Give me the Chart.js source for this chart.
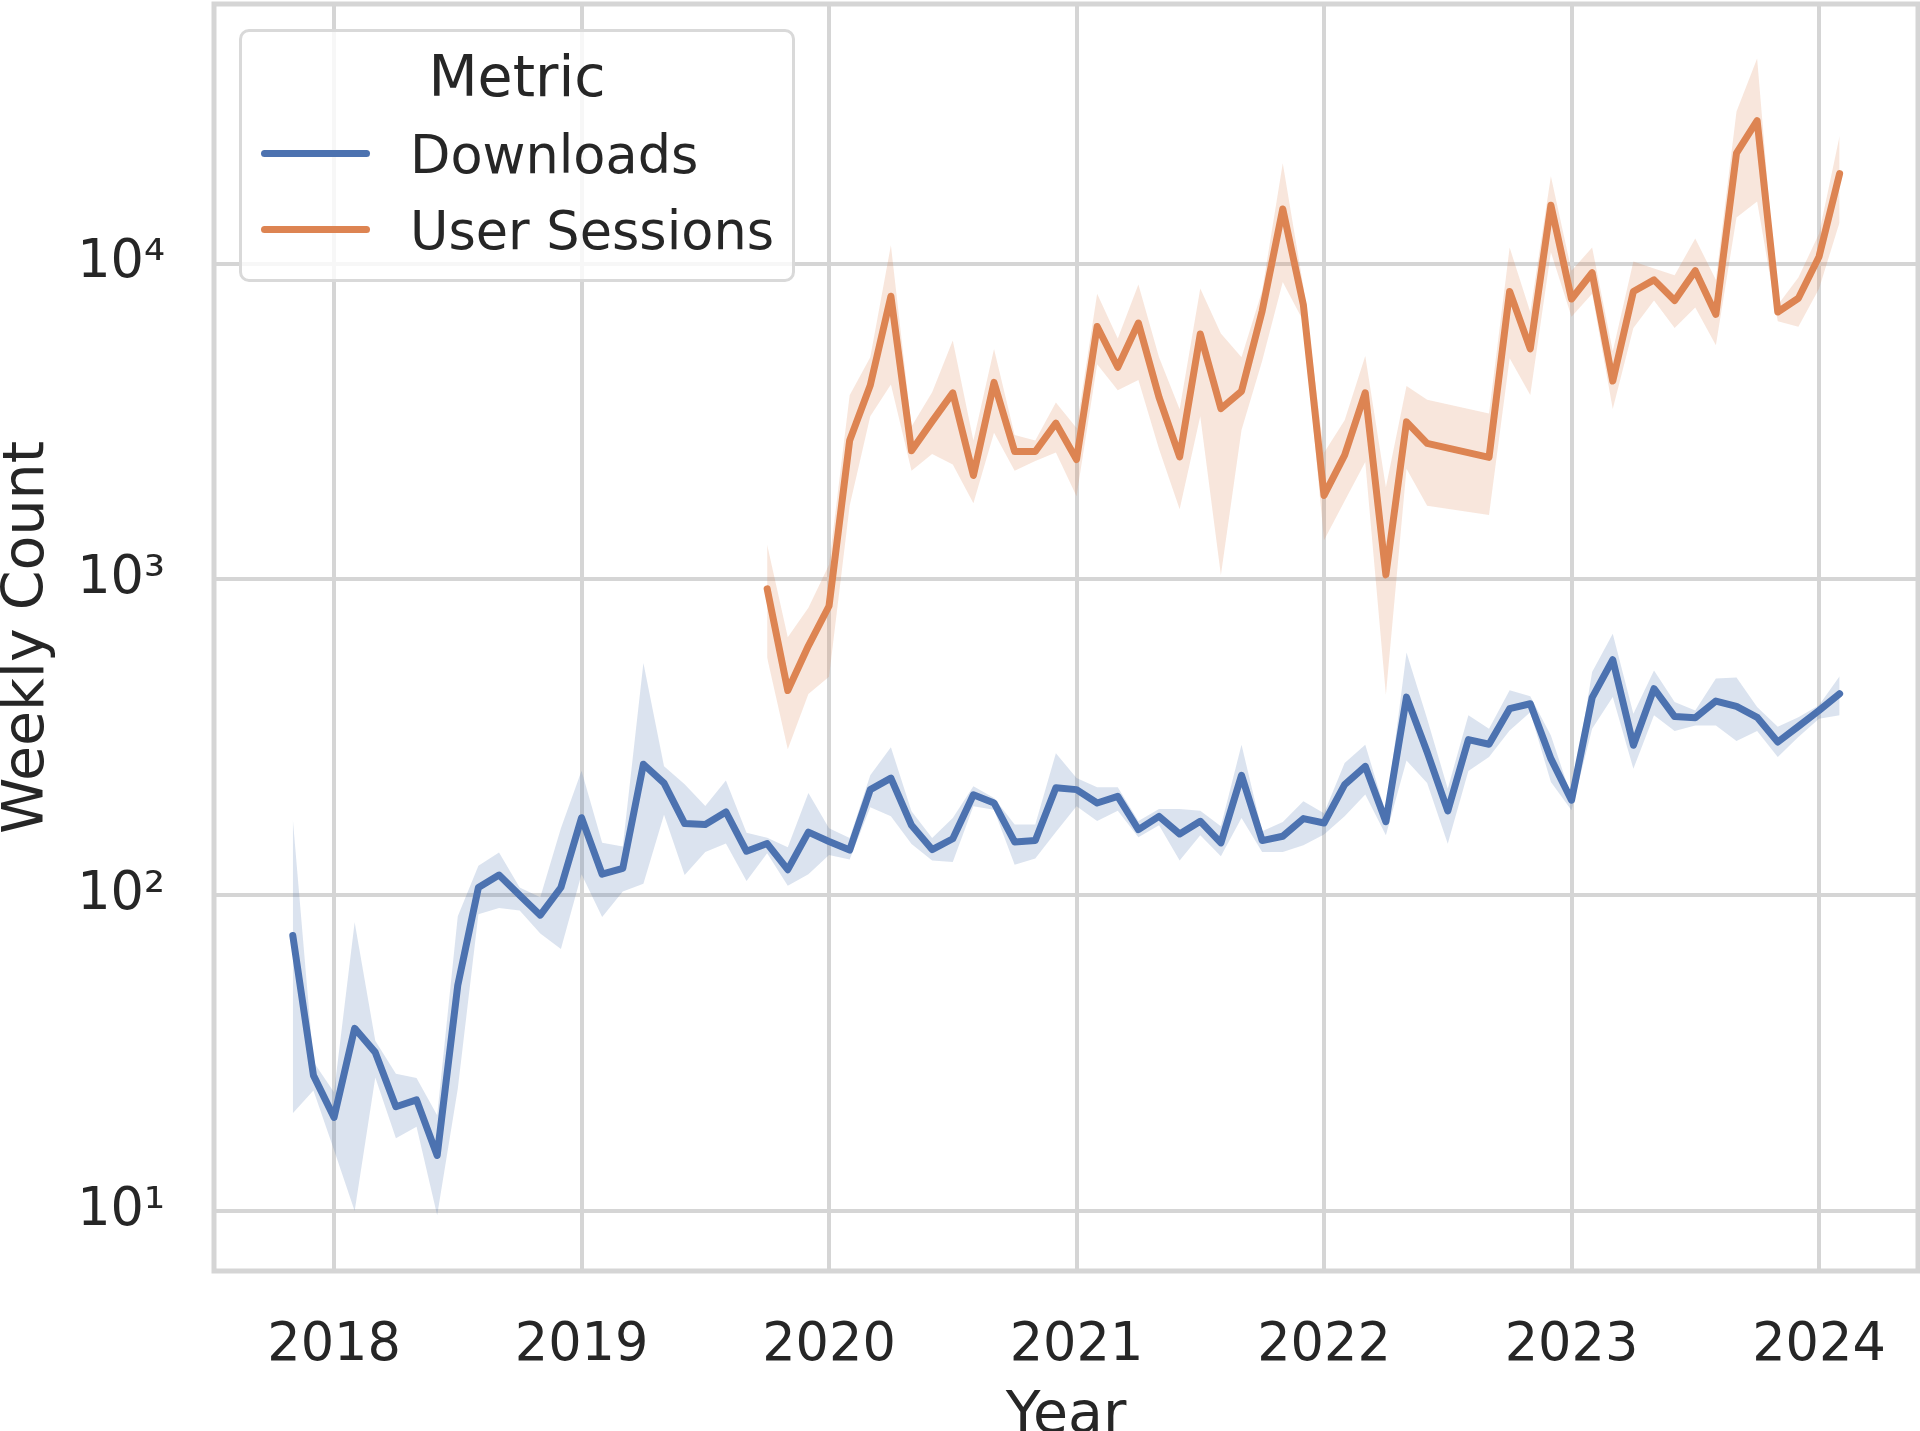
<!DOCTYPE html>
<html>
<head>
<meta charset="utf-8">
<script src="https://cdn.jsdelivr.net/npm/chart.js@4.4.1/dist/chart.umd.min.js"></script>
<style>
  html, body { margin: 0; padding: 0; background: #ffffff; }
  #wrap { position: relative; width: 1920px; height: 1431px; overflow: hidden; }
  #c { position: absolute; left: 0; top: 0; }
  .lg { position: absolute; font-family: "DejaVu Sans", sans-serif; color: #262626; white-space: nowrap; }
</style>
</head>
<body>
<div id="wrap">
  <canvas id="c" width="1920" height="1431"></canvas>
  <div id="legendBox" style="position:absolute;left:239px;top:29px;width:550px;height:247px;border:3px solid #d9d9d9;border-radius:10px;background:rgba(255,255,255,0.8);"></div>
  <div class="lg" style="left:239px;width:556px;text-align:center;top:48px;font-size:57px;line-height:57px;">Metric</div>
  <div style="position:absolute;left:261px;top:150px;width:109px;height:7px;border-radius:3.5px;background:#4c72b0;"></div>
  <div class="lg" style="left:410px;top:129px;font-size:52.5px;line-height:52.5px;">Downloads</div>
  <div style="position:absolute;left:261px;top:226px;width:109px;height:7px;border-radius:3.5px;background:#dd8452;"></div>
  <div class="lg" style="left:410px;top:205px;font-size:52.5px;line-height:52.5px;">User Sessions</div>
</div>
<script>
// ---------------- data ----------------
const downloadsMonths = [
  '2017-11','2017-12',
  '2018-01','2018-02','2018-03','2018-04','2018-05','2018-06','2018-07','2018-08','2018-09','2018-10','2018-11','2018-12',
  '2019-01','2019-02','2019-03','2019-04','2019-05','2019-06','2019-07','2019-08','2019-09','2019-10','2019-11','2019-12',
  '2020-01','2020-02','2020-03','2020-04','2020-05','2020-06','2020-07','2020-08','2020-09','2020-10','2020-11','2020-12',
  '2021-01','2021-02','2021-03','2021-04','2021-05','2021-06','2021-07','2021-08','2021-09','2021-10','2021-11','2021-12',
  '2022-01','2022-02','2022-03','2022-04','2022-05','2022-06','2022-07','2022-08','2022-09','2022-10','2022-11','2022-12',
  '2023-01','2023-02','2023-03','2023-04','2023-05','2023-06','2023-07','2023-08','2023-09','2023-10','2023-11','2023-12',
  '2024-01','2024-02'
];
const downloadsMean = [
  74.6, 26.9,
  19.8, 37.9, 31.8, 21.4, 22.5, 15.0, 51.9, 105.8, 115.9, 100, 86.5, 105.8,
  176, 116.6, 121.6, 260, 226.6, 168.7, 167.6, 183.6, 137.8, 145.8, 120.5, 158.4,
  148, 139, 216, 235, 166.5, 139.5, 151, 208, 196, 147.5, 149, 219,
  216, 196, 205.6, 161.4, 177.8, 156.3, 171.5, 146.5, 239.7, 149, 153.8, 174.9,
  169.4, 224, 256, 171, 424, 284, 184.9, 311, 300.7, 389.9, 404, 270.7,
  200, 422.3, 557, 298.5, 451, 368, 364.8, 412, 396.5, 366, 305.6, 342.6,
  384.6, 434.6
];
const downloadsLower = [
  20.4, 24.1,
  15.6, 10.0, 26.5, 17.0, 18.5, 9.7, 24.4, 87, 91.2, 89.5, 75.7, 67.6,
  116.6, 85.3, 102.8, 108.7, 180, 115.9, 137, 145.8, 110.9, 135.9, 107.2, 116.6,
  134, 129.7, 189.8, 177.8, 145.3, 128.8, 127.4, 191.4, 186.6, 125, 130.7, 158.6,
  191.4, 172, 185.3, 152.7, 166.5, 128.8, 155, 132.8, 175.8, 137, 137, 144,
  155.6, 177.8, 208.3, 155, 267, 226.8, 145.7, 247.5, 274, 332.7, 380, 228.4,
  185.8, 336.5, 424.6, 251.4, 371.6, 331.3, 345, 345, 307.7, 331.3, 274, 317,
  362, 371.6
];
const downloadsUpper = [
  174.7, 29.7,
  23.8, 82.2, 34.6, 27.2, 26.4, 20.1, 85.8, 124, 136.7, 105.8, 98.6, 163,
  247.8, 146.6, 142.6, 544, 256, 224.7, 191.6, 231, 157.8, 152, 141.9, 210.7,
  163, 151.7, 239.7, 294, 184.5, 151.7, 175.8, 221.3, 203.3, 167.5, 167.5, 281.8,
  235, 219.8, 219.8, 172, 187.4, 187.4, 185.3, 165.3, 299.8, 159.6, 170.6, 198.3,
  182, 262.5, 299.8, 182, 587, 362, 217.6, 371.6, 336.5, 445.5, 426.6, 320.6,
  204.7, 509, 673, 375.6, 515, 409.5, 384.7, 485.7, 489, 394.7, 341.5, 366,
  399.3, 493.6
];

const sessionsMonths = [
  '2019-10','2019-11','2019-12',
  '2020-01','2020-02','2020-03','2020-04','2020-05','2020-06','2020-07','2020-08','2020-09','2020-10','2020-11','2020-12',
  '2021-01','2021-02','2021-03','2021-04','2021-05','2021-06','2021-07','2021-08','2021-09','2021-10','2021-11','2021-12',
  '2022-01','2022-02','2022-03','2022-04','2022-05','2022-06','2022-09','2022-10','2022-11','2022-12',
  '2023-01','2023-02','2023-03','2023-04','2023-05','2023-06','2023-07','2023-08','2023-09','2023-10','2023-11','2023-12',
  '2024-01','2024-02'
];
const sessionsMean = [
  934, 444.8, 616.6,
  824, 2755, 4121, 7888, 2557, 3166, 3898, 2134, 4207, 2541, 2541, 3126,
  2398, 6322, 4697, 6486, 3775, 2444, 5985, 3475, 3945, 7080, 14900, 7396,
  1845, 2477, 3902, 1034, 3155, 2697, 2436, 8166, 5373, 15300,
  7727, 9358, 4248, 8166, 8886, 7639, 9502, 6906, 22390, 28350, 7030, 7772,
  10520, 19280
];
const sessionsLower = [
  565, 290, 433.6,
  492, 1710, 3289, 4140, 2208, 2494, 2312, 1744, 2913, 2208, 2371, 2523,
  1833, 4798, 3973, 4283, 2588, 1667, 3289, 1033, 2973, 4921, 8750, 6570,
  1330, 1771, 2355, 431.5, 2241, 1713, 1600, 5013, 3838, 10870,
  6793, 8035, 3468, 6250, 7638, 6250, 7262, 5520, 13990, 15740, 6575, 6310,
  8320, 13520
];
const sessionsUpper = [
  1289, 656, 813,
  1114, 3831, 5050, 11430, 3049, 3919, 5714, 2755, 5368, 2865, 2755, 3631,
  3015, 8035, 5793, 8590, 5050, 3459, 8336, 6012, 5050, 8200, 20800, 8456,
  2518, 3191, 5100, 1958, 4101, 3707, 3356, 11250, 7030, 18920,
  9502, 11250, 5280, 10160, 9660, 9190, 12020, 8886, 30340, 44660, 7396, 9040,
  12440, 25350
];

const xTickYears = [2018, 2019, 2020, 2021, 2022, 2023, 2024];
const yTickValues = [10, 100, 1000, 10000];
const yTickLabels = ['10\u00B9', '10\u00B2', '10\u00B3', '10\u2074'];

// ---------------- helpers ----------------
function monthToYear(m) {
  const p = m.split('-');
  return parseInt(p[0], 10) + (parseInt(p[1], 10) - 1) / 12;
}
function pts(months, vals) {
  return months.map((m, i) => ({ x: monthToYear(m), y: vals[i] }));
}

const BLUE = '#4c72b0', ORANGE = '#dd8452';
const TEXT = '#262626', GRID = '#d5d5d5';
const FONT = '"DejaVu Sans", sans-serif';

const framePlugin = {
  id: 'frame',
  beforeDatasetsDraw(chart) {
    const a = chart.chartArea, ctx = chart.ctx;
    ctx.save();
    ctx.strokeStyle = GRID;
    ctx.lineWidth = 5;
    ctx.strokeRect(a.left, a.top, a.right - a.left, a.bottom - a.top);
    ctx.restore();
  }
};

const lineBase = { pointRadius: 0, borderWidth: 7, borderJoinStyle: 'round', borderCapStyle: 'round', tension: 0, fill: false };
const bandBase = { pointRadius: 0, borderWidth: 0, borderColor: 'rgba(0,0,0,0)', tension: 0 };

new Chart(document.getElementById('c'), {
  type: 'line',
  data: {
    datasets: [
      Object.assign({ label: 'Downloads', data: pts(downloadsMonths, downloadsMean), borderColor: BLUE }, lineBase),
      Object.assign({ label: 'User Sessions', data: pts(sessionsMonths, sessionsMean), borderColor: ORANGE }, lineBase),
      Object.assign({ label: 'dl_upper', data: pts(downloadsMonths, downloadsUpper), fill: '+1', backgroundColor: 'rgba(76,114,176,0.2)' }, bandBase),
      Object.assign({ label: 'dl_lower', data: pts(downloadsMonths, downloadsLower), fill: false }, bandBase),
      Object.assign({ label: 'us_upper', data: pts(sessionsMonths, sessionsUpper), fill: '+1', backgroundColor: 'rgba(221,132,82,0.2)' }, bandBase),
      Object.assign({ label: 'us_lower', data: pts(sessionsMonths, sessionsLower), fill: false }, bandBase)
    ]
  },
  options: {
    responsive: false,
    animation: false,
    devicePixelRatio: 1,
    layout: { padding: { top: 4, right: 2, left: 0, bottom: 0 } },
    plugins: { legend: { display: false }, tooltip: { enabled: false } },
    scales: {
      x: {
        type: 'linear', min: 2017.515, max: 2024.40,
        afterBuildTicks: s => { s.ticks = xTickYears.map(v => ({ value: v })); },
        afterFit: s => { s.height = 160; s.paddingLeft = 0; s.paddingRight = 0; },
        ticks: { callback: v => String(v), font: { family: FONT, size: 52.5 }, color: TEXT, padding: 44, maxRotation: 0, autoSkip: false },
        grid: { color: GRID, lineWidth: 4, drawTicks: false },
        border: { display: false },
        title: { display: true, text: 'Year', font: { family: FONT, size: 57, lineHeight: 0.5 }, color: TEXT, padding: 0 }
      },
      y: {
        type: 'logarithmic', min: 6.46, max: 66400,
        afterBuildTicks: s => { s.ticks = yTickValues.map(v => ({ value: v })); },
        afterFit: s => { s.width = 214; s.paddingTop = 0; s.paddingBottom = 0; },
        ticks: { callback: v => yTickLabels[yTickValues.indexOf(v)] || '', font: { family: FONT, size: 52.5 }, color: TEXT, padding: 49, autoSkip: false },
        grid: { color: GRID, lineWidth: 4, drawTicks: false },
        border: { display: false },
        title: { display: true, text: 'Weekly Count', font: { family: FONT, size: 57, lineHeight: 1 }, color: TEXT, padding: 0 }
      }
    }
  },
  plugins: [framePlugin]
});
</script>
</body>
</html>
